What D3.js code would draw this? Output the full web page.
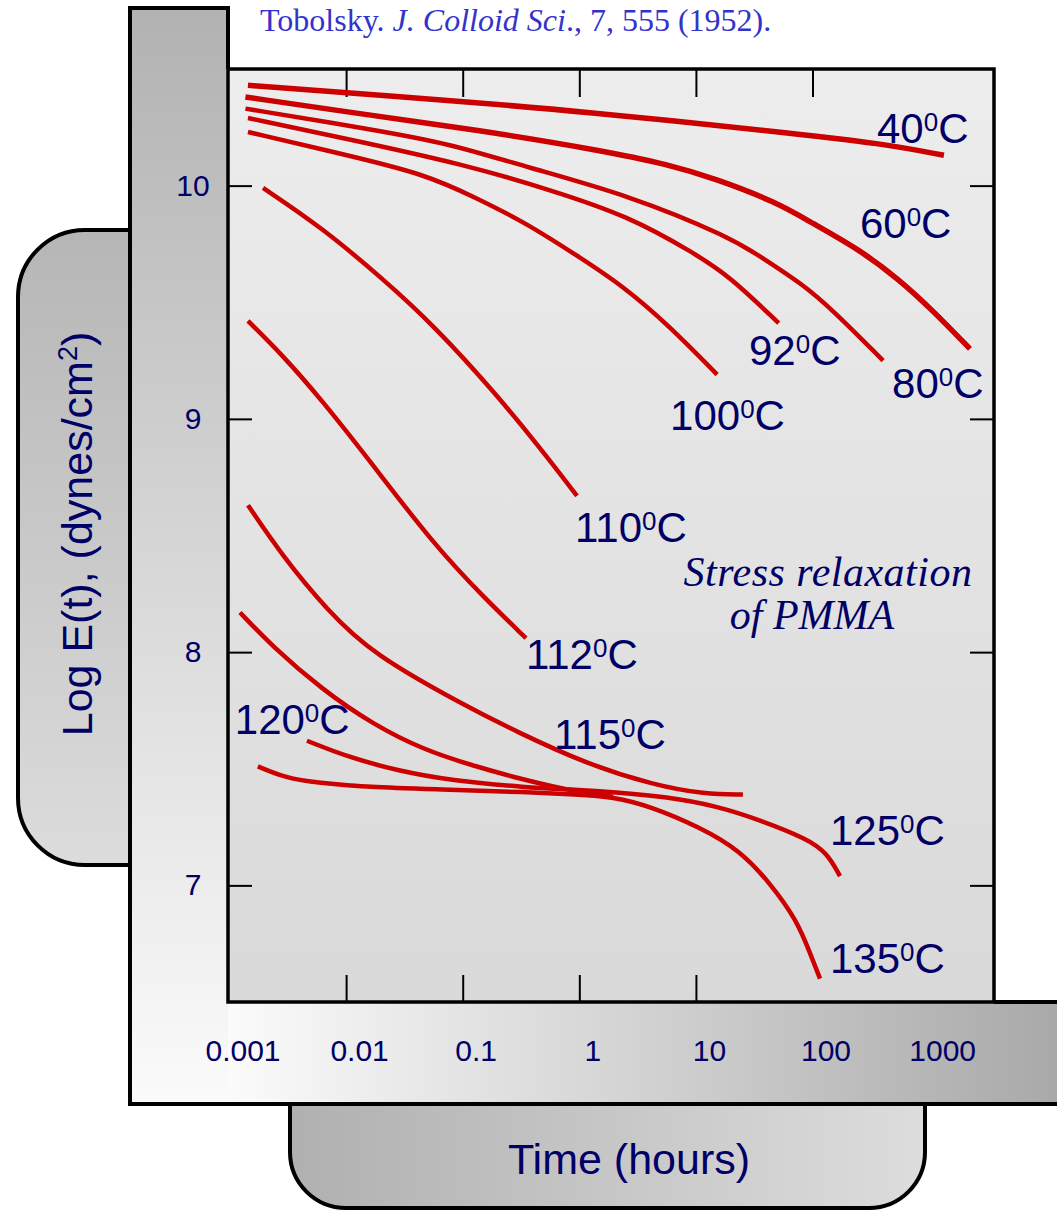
<!DOCTYPE html>
<html>
<head>
<meta charset="utf-8">
<script src="https://cdn.jsdelivr.net/npm/d3@7"></script>
<style>
  body { margin: 0; background: #fff; }
  svg { display: block; }
</style>
</head>
<body>
<div id="chart"></div>
<script>

// temperatures (deg C) and their curves: [time in hours, log E(t)]
const temps = ['40', '60', '80', '92', '100', '110', '112', '115', '120', '125', '135'];

const relax40 = [[0.00144, 10.43], [0.105, 10.36], [0.955, 10.32], [53.7, 10.23], [403, 10.18], [1340, 10.13]];
const relax60 = [[0.00137, 10.38], [0.017, 10.30], [0.128, 10.24], [1.585, 10.15], [5.87, 10.09], [14.6, 10.03],
    [48.7, 9.93], [98.9, 9.84], [245, 9.73], [547, 9.60], [1100, 9.46], [2240, 9.30]];
const relax80 = [[0.00137, 10.33], [0.017, 10.24], [0.0773, 10.18], [0.349, 10.08], [2.62, 9.96], [19.6, 9.78],
    [40, 9.68], [80.6, 9.58], [147, 9.47], [403, 9.25]];
const relax92 = [[0.00144, 10.29], [0.0103, 10.20], [0.105, 10.09], [0.578, 9.98], [2.62, 9.87], [9.73, 9.71],
    [19.6, 9.61], [51.3, 9.41]];
const relax100 = [[0.00144, 10.23], [0.0103, 10.13], [0.0466, 10.05], [0.128, 9.95], [0.349, 9.84], [0.955, 9.70],
    [2.37, 9.57], [5.87, 9.40], [15.2, 9.19]];
const relax110 = [[0.00194, 9.99], [0.0062, 9.82], [0.0207, 9.60], [0.0567, 9.40], [0.191, 9.11], [0.47, 8.87], [0.955, 8.67]];
const relax112 = [[0.00144, 9.42], [0.00277, 9.28], [0.0062, 9.08], [0.0154, 8.83], [0.0567, 8.46], [0.155, 8.23], [0.349, 8.06]];
const relax115 = [[0.00144, 8.63], [0.00277, 8.42], [0.00686, 8.18], [0.017, 7.99], [0.105, 7.77], [0.287, 7.66],
    [1.16, 7.52], [4.37, 7.43], [12, 7.39], [25.3, 7.39]];
const relax120 = [[0.00123, 8.17], [0.00227, 8.03], [0.0062, 7.84], [0.017, 7.69], [0.0466, 7.58], [0.128, 7.51],
    [0.349, 7.45], [0.955, 7.40], [1.95, 7.38]];
const relax125 = [[0.00462, 7.62], [0.0104, 7.55], [0.0284, 7.49], [0.0778, 7.45], [0.349, 7.42], [0.955, 7.41],
    [1.95, 7.40], [5.65, 7.38], [15.2, 7.34], [35.5, 7.28], [89.8, 7.20], [133, 7.14], [172, 7.04]];
const relax135 = [[0.00175, 7.51], [0.00305, 7.46], [0.00562, 7.44], [0.017, 7.42], [0.0778, 7.41], [0.349, 7.40],
    [0.955, 7.39], [1.95, 7.38], [4.04, 7.34], [10.8, 7.25], [23.9, 7.15], [43.2, 7.01], [73.6, 6.85], [95.1, 6.71], [116, 6.60]];

const series = [relax40, relax60, relax80, relax92, relax100, relax110, relax112, relax115, relax120, relax125, relax135];

// where each temperature label sits, in data units [time, log E]
const labelSpots = [[357, 10.184], [255, 9.777], [481, 9.091], [28.5, 9.229], [6.0, 8.954], [0.92, 8.474],
    [0.349, 7.926], [0.607, 7.583], [0.00111, 7.651], [141, 7.171], [141, 6.623]];

const timeTicks = [0.001, 0.01, 0.1, 1, 10, 100, 1000];
const timeTickLabels = ['0.001', '0.01', '0.1', '1', '10', '100', '1000'];
const topTicks = [0.01, 0.1, 1, 10, 100];
const bottomTicks = [0.01, 0.1, 1, 10];
const modTicks = [7, 8, 9, 10];

const citation = ['Tobolsky. ', 'J. Colloid Sci', '., 7, 555 (1952).'];

// layout
const width = 1057, height = 1212;
const plot = {left: 228, top: 69, right: 994, bottom: 1002};
const navy = '#000066';
const sans = 'Liberation Sans, Arial, sans-serif';
const serif = 'Liberation Serif, Times New Roman, serif';

const svg = d3.select('#chart')
    .append('svg')
    .attr('width', width)
    .attr('height', height);

const defs = svg.append('defs');

function gradient(id, horizontal, from, to) {
    const g = defs.append('linearGradient')
        .attr('id', id)
        .attr('x1', 0).attr('y1', 0)
        .attr('x2', horizontal ? 1 : 0)
        .attr('y2', horizontal ? 0 : 1);
    g.append('stop').attr('offset', '0%').attr('stop-color', from);
    g.append('stop').attr('offset', '100%').attr('stop-color', to);
}
gradient('gPlot', false, '#ededed', '#d9d9d9');
gradient('gBar', false, '#b2b2b2', '#fbfbfb');
gradient('gBand', true, '#fbfbfb', '#a6a6a6');
gradient('gYBox', false, '#b6b6b6', '#dcdcdc');
gradient('gXBox', true, '#b0b0b0', '#dddddd');

// y title box (rounded on the left)
svg.append('path')
    .attr('d', 'M130,230 H85 A67,67 0 0 0 18,297 V798 A67,67 0 0 0 85,865 H130')
    .attr('fill', 'url(#gYBox)')
    .attr('stroke', '#000')
    .attr('stroke-width', 4);

// x title box (rounded at the bottom)
svg.append('path')
    .attr('d', 'M290,1104 V1152 A56,56 0 0 0 346,1208 H869 A56,56 0 0 0 925,1152 V1104')
    .attr('fill', 'url(#gXBox)')
    .attr('stroke', '#000')
    .attr('stroke-width', 4);

// frame bars, filled first and outlined after
svg.append('rect')
    .attr('x', 130).attr('y', 8)
    .attr('width', plot.left - 130).attr('height', 1104 - 8)
    .attr('fill', 'url(#gBar)');

svg.append('rect')
    .attr('x', plot.left).attr('y', plot.bottom)
    .attr('width', 860).attr('height', 1104 - plot.bottom)
    .attr('fill', 'url(#gBand)');

svg.append('path')
    .attr('d', 'M' + plot.left + ',' + plot.top + ' V8 H130 V1104 H1060 M' + plot.right + ',' + plot.bottom + ' H1060')
    .attr('fill', 'none')
    .attr('stroke', '#000')
    .attr('stroke-width', 4);

svg.append('rect')
    .attr('x', plot.left).attr('y', plot.top)
    .attr('width', plot.right - plot.left).attr('height', plot.bottom - plot.top)
    .attr('fill', 'url(#gPlot)')
    .attr('stroke', '#000')
    .attr('stroke-width', 3.5);

// scales
const xScale = d3.scaleLog()
    .domain([0.001, 3600])
    .range([plot.left + 1.5, plot.right]);

const yScale = d3.scaleLinear()
    .domain([6.5, 10.5])
    .range([plot.bottom, plot.top]);

// inward ticks on all four sides
function ticks(axis, tx, ty) {
    const g = svg.append('g')
        .attr('transform', 'translate(' + tx + ',' + ty + ')')
        .call(axis);
    g.select('.domain').remove();
    g.selectAll('line').attr('stroke', '#000').attr('stroke-width', 2);
    g.selectAll('text').remove();
}
ticks(d3.axisBottom(xScale).tickValues(topTicks).tickSize(28), 0, plot.top);
ticks(d3.axisTop(xScale).tickValues(bottomTicks).tickSize(27), 0, plot.bottom);
ticks(d3.axisRight(yScale).tickValues(modTicks).tickSize(24), plot.left, 0);
ticks(d3.axisLeft(yScale).tickValues(modTicks).tickSize(24), plot.right, 0);

// tick labels
const xLab = svg.append('g')
    .attr('transform', 'translate(0,1040)')
    .call(d3.axisBottom(xScale).tickValues(timeTicks).tickSize(0)
        .tickFormat((d, i) => timeTickLabels[i]));
xLab.select('.domain').remove();
xLab.selectAll('text')
    .attr('dx', 13)
    .attr('y', 0)
    .attr('dy', '0.71em')
    .attr('fill', navy)
    .style('font-family', sans)
    .style('font-size', '30px');

const yLab = svg.append('g')
    .attr('transform', 'translate(' + plot.left + ',0)')
    .call(d3.axisLeft(yScale).tickValues(modTicks).tickSize(0).tickFormat(d3.format('d')));
yLab.select('.domain').remove();
yLab.selectAll('text')
    .attr('x', -35)
    .attr('text-anchor', 'middle')
    .attr('fill', navy)
    .style('font-family', sans)
    .style('font-size', '30px');

// curves
const line = d3.line()
    .x(d => xScale(d[0]))
    .y(d => yScale(d[1]))
    .curve(d3.curveBasis);

svg.append('g')
    .selectAll('path')
    .data(series)
    .join('path')
    .attr('d', line)
    .attr('fill', 'none')
    .attr('stroke', '#cc0000')
    .attr('stroke-width', (d, i) => i < 2 ? 5.5 : 4.5);

// temperature labels
const tl = svg.append('g')
    .selectAll('text')
    .data(temps)
    .join('text')
    .attr('x', (d, i) => xScale(labelSpots[i][0]))
    .attr('y', (d, i) => yScale(labelSpots[i][1]))
    .attr('fill', navy)
    .style('font-family', sans)
    .style('font-size', '42px');
tl.append('tspan').text(d => d);
tl.append('tspan').attr('dy', -12).style('font-size', '26px').text('0');
tl.append('tspan').attr('dy', 12).text('C');

// note inside the plot
const note = svg.append('text')
    .attr('fill', navy)
    .attr('text-anchor', 'middle')
    .style('font-family', serif)
    .style('font-style', 'italic')
    .style('font-size', '42px');
note.append('tspan').attr('x', 828).attr('y', 586).style('letter-spacing', '0.5px').text('Stress relaxation');
note.append('tspan').attr('x', 812).attr('y', 629).text('of PMMA');

// citation at the top
const cite = svg.append('text')
    .attr('x', 260)
    .attr('y', 31)
    .attr('fill', '#3333cc')
    .style('font-family', serif)
    .style('font-size', '32px');
cite.append('tspan').text(citation[0]);
cite.append('tspan').style('font-style', 'italic').text(citation[1]);
cite.append('tspan').text(citation[2]);

// axis titles
const yTitle = svg.append('text')
    .attr('transform', 'translate(92,534) rotate(-90)')
    .attr('text-anchor', 'middle')
    .attr('fill', navy)
    .style('font-family', sans)
    .style('font-size', '43px');
yTitle.append('tspan').text('Log E(t),  (dynes/cm');
yTitle.append('tspan').attr('dy', -15).style('font-size', '27px').text('2');
yTitle.append('tspan').attr('dy', 15).text(')');

svg.append('text')
    .attr('x', 629)
    .attr('y', 1174)
    .attr('text-anchor', 'middle')
    .attr('fill', navy)
    .style('font-family', sans)
    .style('font-size', '43px')
    .text('Time (hours)');

</script>
</body>
</html>
